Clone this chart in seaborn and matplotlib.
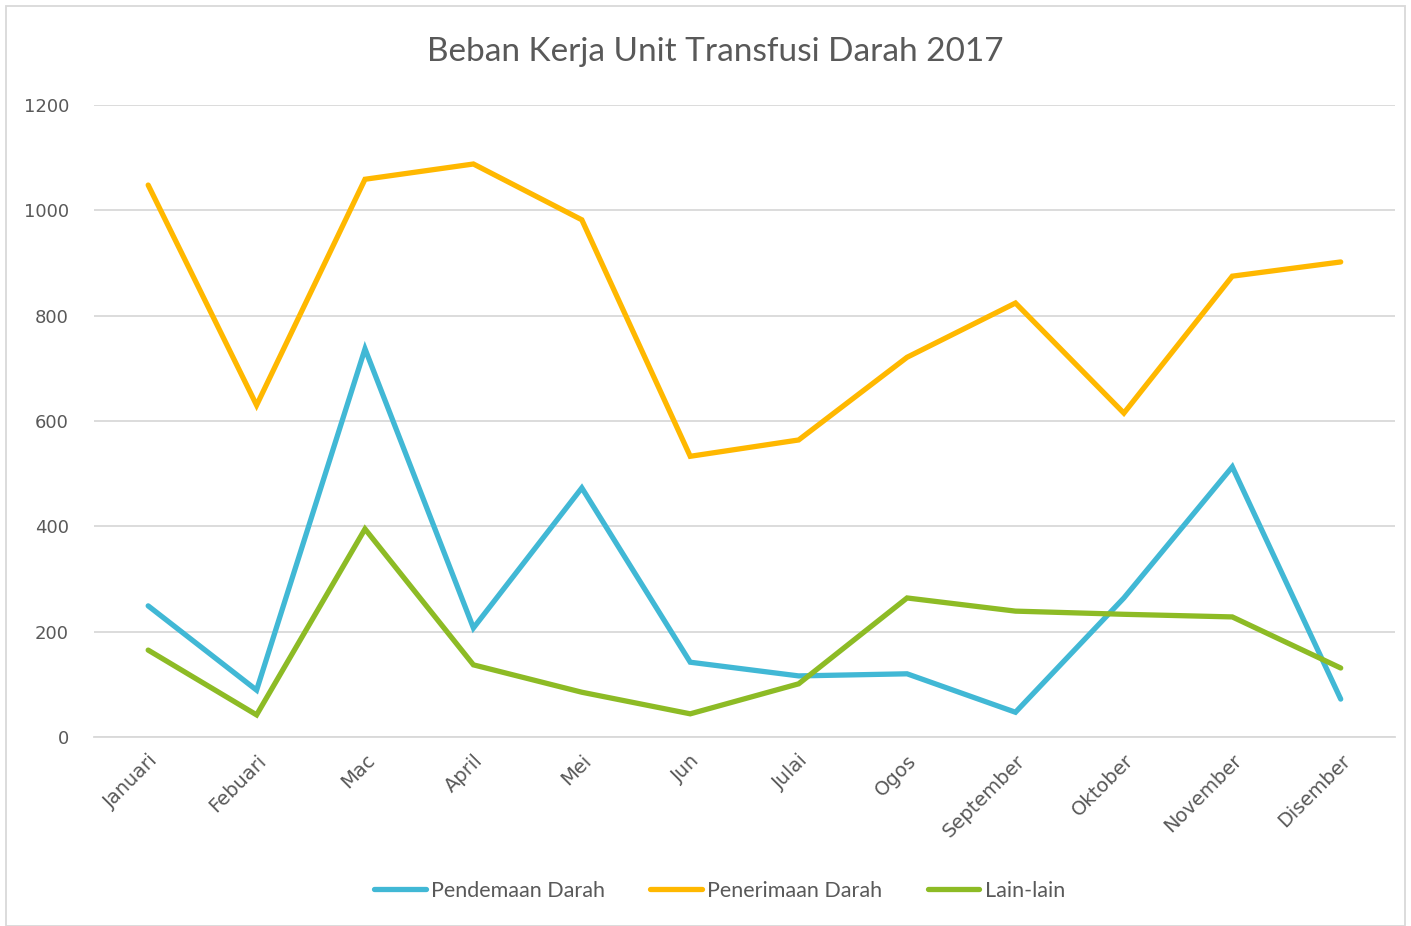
import matplotlib
matplotlib.use("Agg")
import matplotlib.pyplot as plt
import seaborn as sns
import pandas as pd
from matplotlib.patches import Rectangle

# --------------------------
# Data
# --------------------------
months = ["Januari", "Febuari", "Mac", "April", "Mei", "Jun",
          "Julai", "Ogos", "September", "Oktober", "November", "Disember"]
pendemaan = [249, 89, 737, 207, 473, 142, 116, 120, 47, 264, 513, 72]
penerimaan = [1048, 630, 1059, 1088, 982, 533, 564, 721, 824, 615, 875, 902]
lain_lain = [165, 42, 395, 137, 85, 44, 101, 264, 239, 233, 228, 131]

series_names = ["Pendemaan Darah", "Penerimaan Darah", "Lain-lain"]
colors = ["#41B8D5", "#FFB800", "#8DBB25"]

df = pd.DataFrame({"Bulan": months,
                   series_names[0]: pendemaan,
                   series_names[1]: penerimaan,
                   series_names[2]: lain_lain})
long_df = df.melt(id_vars="Bulan", var_name="Siri", value_name="Nilai")
long_df["x"] = long_df["Bulan"].map({m: i for i, m in enumerate(months)})

# --------------------------
# Style
# --------------------------
sns.set_style("white")
plt.rcParams['font.family'] = ['Lato', 'DejaVu Sans']
text_color = "#595959"

fig = plt.figure(figsize=(14.11, 9.26), dpi=100)
ax = fig.add_axes([0.0666, 0.2041, 0.922, 0.6825])

sns.lineplot(data=long_df, x="x", y="Nilai", hue="Siri", hue_order=series_names,
             palette=colors, linewidth=3.8, ax=ax, legend=False,
             solid_capstyle="round", solid_joinstyle="miter")

ax.set_xlim(-0.5, len(months) - 0.5)
ax.set_ylim(0, 1200)
ax.set_yticks(range(0, 1201, 200))
ax.set_xticks(range(len(months)))
ax.set_xticklabels(months, rotation=45, ha="right", rotation_mode="anchor",
                   family="DejaVu Sans", fontsize=14)
for lbl in ax.get_yticklabels():
    lbl.set_family("DejaVu Sans")
    lbl.set_fontsize(13)
ax.tick_params(axis="both", length=0, colors=text_color)
ax.tick_params(axis="x", pad=10)
ax.tick_params(axis="y", pad=18)
ax.set_xlabel("")
ax.set_ylabel("")
ax.grid(axis="y", color="#D9D9D9", linewidth=1.3)
ax.set_axisbelow(True)
for side in ["top", "right", "left"]:
    ax.spines[side].set_visible(False)
ax.spines["bottom"].set_color("#D9D9D9")
ax.spines["bottom"].set_linewidth(1.3)

fig.text(0.507, 0.944, "Beban Kerja Unit Transfusi Darah 2017", ha="center", va="center",
         fontsize=24, color=text_color)

# legend
handles = [plt.Line2D([0], [0], color=c, linewidth=3.8, solid_capstyle="round") for c in colors]
fig.legend(handles, series_names, loc="center", bbox_to_anchor=(0.51, 0.038), ncol=3,
           frameon=False, fontsize=15.5, labelcolor=text_color, handlelength=2.4,
           handletextpad=0.25, columnspacing=2.1)

# chart border
fig.patches.append(Rectangle((0.0043, 0.0), 0.9915, 0.9935, transform=fig.transFigure,
                             fill=False, edgecolor="#D9D9D9", linewidth=1.3))

fig.savefig("out.png", dpi=100)
